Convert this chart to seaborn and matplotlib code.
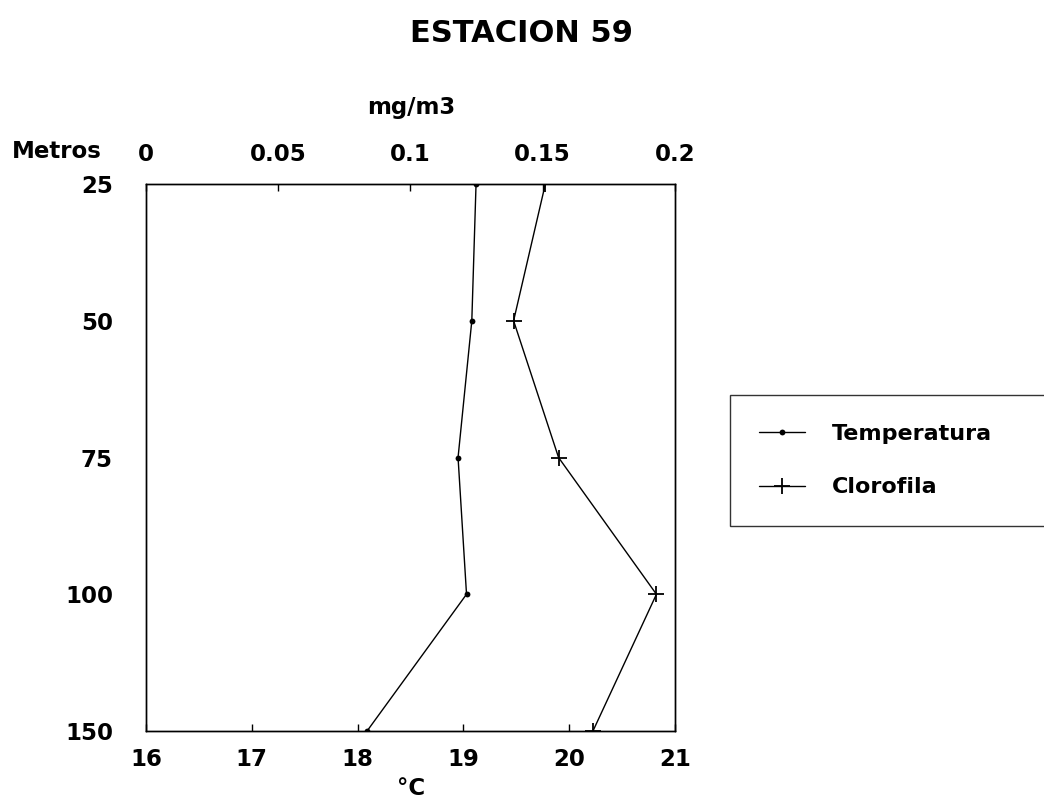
import matplotlib
matplotlib.use("Agg")
import matplotlib.pyplot as plt
import seaborn as sns
import pandas as pd

# Depth profile, station 59
profundidad = ["25", "50", "75", "100", "150"]
temperatura = [19.12, 19.08, 18.95, 19.03, 18.09]      # °C
clorofila = [0.151, 0.139, 0.156, 0.193, 0.169]        # mg/m3

temp_ticks = [16, 17, 18, 19, 20, 21]
clor_ticks = [0, 0.05, 0.1, 0.15, 0.2]
clor_labels = ["0", "0.05", "0.1", "0.15", "0.2"]

sns.set_theme(style="white")
plt.rcParams["font.family"] = ["DejaVu Sans"]
for key in ("text.color", "axes.labelcolor", "xtick.color", "ytick.color"):
    plt.rcParams[key] = "black"

LBL = {"fontsize": 16.5, "fontweight": "bold", "family": "DejaVu Sans"}

pos = list(range(len(profundidad)))
df = pd.DataFrame({"pos": pos, "temp": temperatura, "clor": clorofila})

fig = plt.figure(figsize=(10.44, 8.05), dpi=100)
ax = fig.add_axes([0.1398, 0.0919, 0.5067, 0.6795])

sns.lineplot(data=df, x="temp", y="pos", orient="y", sort=False, ax=ax,
             color="black", linewidth=1.0, marker="o", markersize=4.2,
             markeredgewidth=0, markerfacecolor="black",
             label="Temperatura", legend=False)
ax.set_xlim(16, 21)
ax.set_ylim(len(profundidad) - 1, 0)
ax.set_xticks(temp_ticks)
ax.set_xticklabels([str(t) for t in temp_ticks], **LBL)
ax.set_yticks(pos)
ax.set_yticklabels(profundidad, **LBL)
ax.tick_params(axis="x", direction="in", length=5, width=1.0, color="black", pad=12)
ax.tick_params(axis="y", direction="in", length=5, width=1.0, color="black", pad=23.8)
ax.set_xlabel("")
ax.set_ylabel("")

ax2 = ax.twiny()
sns.lineplot(data=df, x="clor", y="pos", orient="y", sort=False, ax=ax2,
             color="black", linewidth=1.0, marker="+", markersize=11,
             markeredgewidth=1.3, markeredgecolor="black",
             label="Clorofila", legend=False)
ax2.set_xlim(0, 0.2)
ax2.set_ylim(len(profundidad) - 1, 0)
ax2.set_xticks(clor_ticks)
ax2.set_xticklabels(clor_labels, **LBL)
ax2.tick_params(axis="x", direction="in", length=5, width=1.0, color="black", pad=13)
ax2.set_xlabel("")
ax2.set_ylabel("")

for a in (ax, ax2):
    for s in a.spines.values():
        s.set_color("black")
        s.set_linewidth(1.0)

fig.text(0.500, 0.959, "ESTACION 59", fontsize=22, fontweight="bold",
         ha="center", va="center", family="DejaVu Sans", color="black")
fig.text(0.0546, 0.8124, "Metros", ha="center", va="center", **LBL)
fig.text(0.3935, 0.866, "mg/m3", ha="center", va="center", **LBL)
fig.text(0.3935, 0.020, "°C", ha="center", va="center", **LBL)

h1, l1 = ax.get_legend_handles_labels()
h2, l2 = ax2.get_legend_handles_labels()
leg = fig.legend(h1 + h2, l1 + l2, loc="upper left", mode="expand",
                 bbox_to_anchor=(0.699, 0.353, 0.36, 0.156),
                 bbox_transform=fig.transFigure,
                 prop={"size": 16, "weight": "bold", "family": "DejaVu Sans"},
                 frameon=True, fancybox=False, edgecolor="black",
                 handlelength=2.1, handletextpad=1.2,
                 labelspacing=1.5, borderpad=1.3, borderaxespad=0)
leg.get_frame().set_linewidth(1.0)

fig.savefig("out.png", dpi=100, facecolor="white")
